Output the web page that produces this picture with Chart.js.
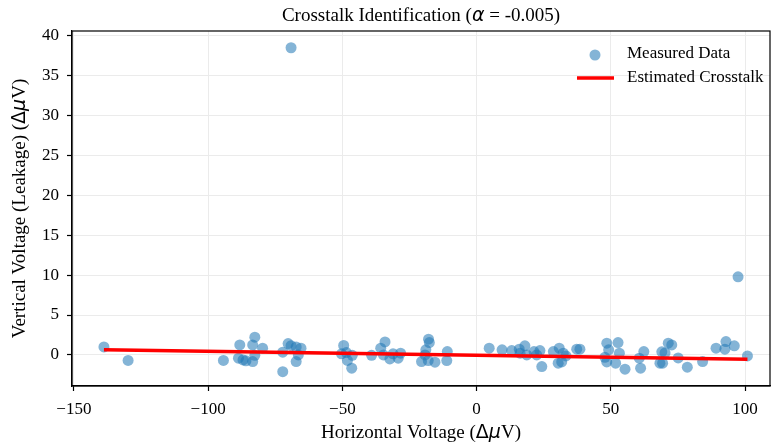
<!DOCTYPE html>
<html><head><meta charset="utf-8">
<script src="https://cdn.jsdelivr.net/npm/chart.js@4.4.0/dist/chart.umd.min.js"></script>
<style>html,body{margin:0;padding:0;background:#fff;overflow:hidden}#wrap{width:771px;height:443px;overflow:hidden}</style>
</head><body><div id="wrap"><canvas id="c" width="776" height="443"></canvas></div>
<script>
// ---- data ----
const xValues = [-138.8,-129.8,-94.3,-88.2,-88.7,-87.0,-85.9,-83.4,-82.6,-83.4,-82.6,-79.7,
  -72.2,-72.2,-70.2,-69.1,-67.2,-65.4,-66.4,-67.2,-69.1,
  -49.5,-50.3,-48.5,-48.1,-46.5,-46.3,
  -39.1,-35.7,-34.1,-34.7,-32.3,-31.1,-29.2,-28.3,
  -20.5,-19.2,-18.9,-17.9,-17.6,-18.0,-15.5,-10.9,-11.1,
  4.7,9.5,13.1,15.9,18.0,16.2,18.7,21.4,22.4,23.6,24.3,28.6,30.4,
  30.8,32.3,31.7,33.3,37.3,38.5,
  48.5,49.2,52.7,53.2,47.8,48.5,51.8,55.3,
  60.6,61.1,62.3,69.0,70.2,71.4,72.7,68.3,69.3,75.1,78.5,84.2,
  89.2,92.9,92.5,96.0,100.9,97.4];
const yValues = [1.0,-0.7,-0.7,1.25,-0.41,-0.63,-0.75,-0.84,2.22,1.25,-0.06,0.84,
  0.34,-2.1,1.42,1.15,1.0,0.84,0.0,-0.84,38.5,
  1.19,0.13,0.29,-0.69,-1.67,-0.06,
  -0.06,0.84,1.63,0.0,-0.5,0.13,-0.41,0.21,
  -0.84,0.0,0.63,1.97,1.54,-0.71,-0.92,0.41,-0.71,
  0.84,0.63,0.54,0.71,1.13,0.21,0.0,0.41,0.0,0.54,-1.47,0.41,-1.04,
  0.84,0.21,-0.88,-0.13,0.71,0.71,
  1.47,0.63,1.54,0.21,-0.31,-0.88,-1.04,-1.79,
  -0.41,-1.67,0.41,0.38,0.25,1.47,1.25,-1.04,-1.04,-0.38,-1.54,-0.84,
  0.84,1.67,0.71,1.13,-0.13,9.78];
const lineX = [-138.8, 100.9];
const lineY = [0.64, -0.56];
const xTicks = [-150,-100,-50,0,50,100];
const yTicks = [0,5,10,15,20,25,30,35,40];
const seriesNames = ['Measured Data','Estimated Crosstalk'];

const SERIF = '"Liberation Serif", "Times New Roman", serif';
const DV = '"DejaVu Sans", sans-serif';
const scatterColor = 'rgba(31,119,180,0.55)';

function drawRich(ctx, parts, cx, cy, rot){
  ctx.save(); ctx.translate(cx, cy); ctx.rotate(rot || 0);
  let total = 0;
  parts.forEach(p => { ctx.font = p.f; p.w = ctx.measureText(p.t).width; total += p.w; });
  let x = -total/2;
  ctx.textBaseline = 'middle'; ctx.textAlign = 'left'; ctx.fillStyle = '#000';
  parts.forEach(p => { ctx.font = p.f; ctx.fillText(p.t, x, 0); x += p.w; });
  ctx.restore();
}

const decor = {
  id: 'decor',
  afterDraw(chart){
    const ctx = chart.ctx, a = chart.chartArea;
    ctx.save(); ctx.strokeStyle = '#000'; ctx.lineWidth = 1.2;
    ctx.strokeRect(a.left, a.top, a.right - a.left, a.bottom - a.top);
    ctx.restore();
    const cx = (a.left + a.right)/2;
    const s19 = '19px ' + SERIF, i19 = 'italic 19px ' + DV, d19 = '19px ' + DV;
    drawRich(ctx, [{t:'Crosstalk Identification (', f:s19},{t:'α', f:i19},{t:' = -0.005)', f:s19}], cx, 16);
    drawRich(ctx, [{t:'Horizontal Voltage (', f:s19},{t:'Δ', f:d19},{t:'μ', f:i19},{t:'V)', f:s19}], cx, 433);
    drawRich(ctx, [{t:'Vertical Voltage (Leakage) (', f:s19},{t:'Δ', f:d19},{t:'μ', f:i19},{t:'V)', f:s19}], 20, (a.top + a.bottom)/2, -Math.PI/2);
    ctx.save();
    ctx.fillStyle = scatterColor;
    ctx.beginPath(); ctx.arc(595, 55, 5.5, 0, Math.PI*2); ctx.fill();
    ctx.strokeStyle = '#ff0000'; ctx.lineWidth = 3.5;
    ctx.beginPath(); ctx.moveTo(577, 78); ctx.lineTo(614, 78); ctx.stroke();
    ctx.fillStyle = '#000'; ctx.font = '17px ' + SERIF; ctx.textBaseline = 'middle'; ctx.textAlign = 'left';
    ctx.fillText(seriesNames[0], 627, 54);
    ctx.fillText(seriesNames[1], 627, 78);
    ctx.restore();
  }
};

const fmt = v => String(v).replace('-', '\u2212');

new Chart(document.getElementById('c'), {
  data: {
    datasets: [
      { type:'line', label: seriesNames[1], data: lineX.map((x,i)=>({x, y: lineY[i]})),
        borderColor:'#ff0000', borderWidth:3.5, pointRadius:0, fill:false, order:0 },
      { type:'scatter', label: seriesNames[0], data: xValues.map((x,i)=>({x, y: yValues[i]})),
        backgroundColor: scatterColor, borderWidth:0, pointRadius:5.5, pointHoverRadius:5.5, order:1 }
    ]
  },
  options: {
    responsive:false, animation:false, devicePixelRatio:1,
    events: [],
    layout: { padding: { top:31, right:6, left:0, bottom:0 } },
    plugins: { legend:{display:false}, title:{display:false}, tooltip:{enabled:false} },
    scales: {
      x: { type:'linear', position:'bottom', min:-150.7, max:109.3,
        afterBuildTicks: s => { s.ticks = xTicks.map(v=>({value:v})); },
        afterFit: s => { s.height = 57; s.paddingLeft = 0; s.paddingRight = 0; },
        grid: { color:'#ebebeb', lineWidth:1, drawTicks:true, tickLength:5, tickColor:'#000', tickWidth:1.2 },
        border: { display:true, color:'#000', width:1.2 },
        ticks: { color:'#000', font:{ family:SERIF, size:17 }, padding:8, maxRotation:0, callback: fmt }
      },
      y: { type:'linear', position:'left', min:-3.9, max:40.6,
        afterBuildTicks: s => { s.ticks = yTicks.map(v=>({value:v})); },
        afterFit: s => { s.width = 72; s.paddingTop = 0; s.paddingBottom = 0; },
        grid: { color:'#ebebeb', lineWidth:1, drawTicks:true, tickLength:5, tickColor:'#000', tickWidth:1.2 },
        border: { display:true, color:'#000', width:1.2 },
        ticks: { color:'#000', font:{ family:SERIF, size:17 }, padding:8, callback: fmt }
      }
    }
  },
  plugins: [decor]
});
</script>
</body></html>
